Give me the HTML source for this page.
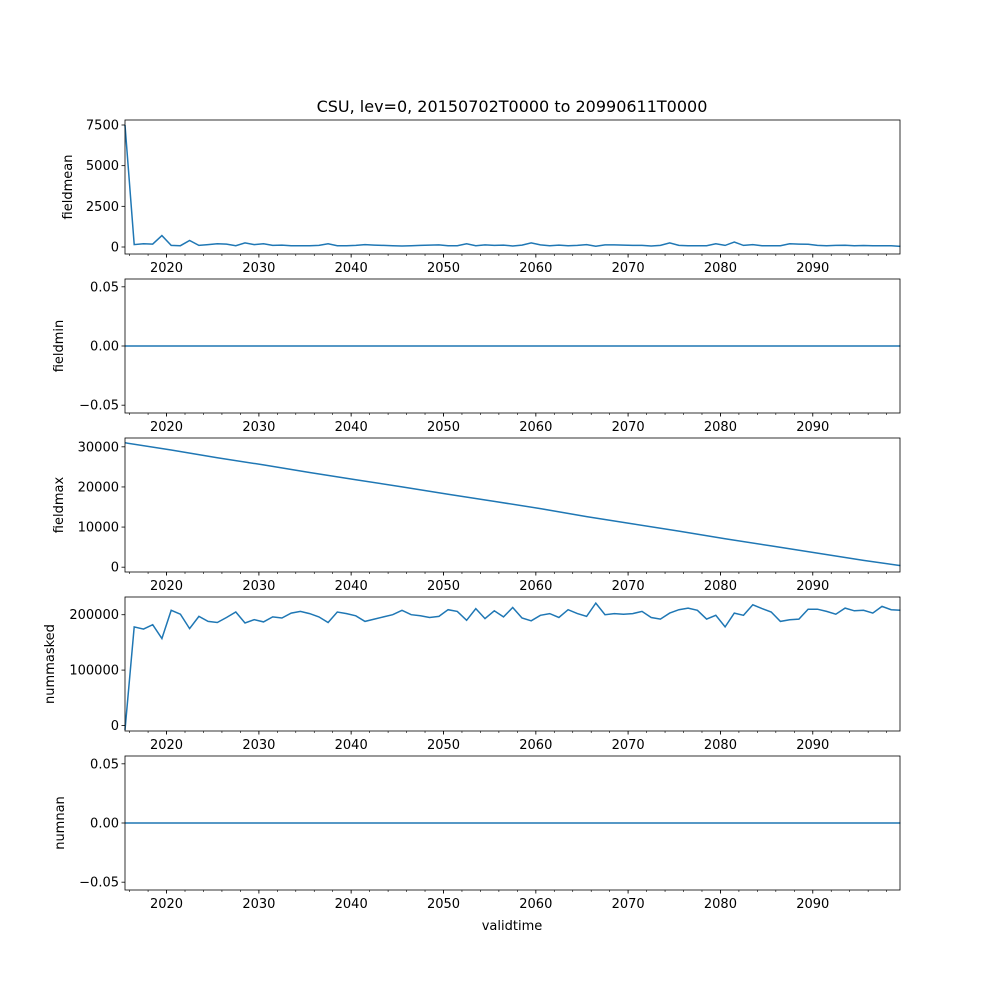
<!DOCTYPE html>
<html><head><meta charset="utf-8"><style>
body{margin:0;background:#fff;font-family:"Liberation Sans","DejaVu Sans",sans-serif}
text{font-family:"DejaVu Sans","Liberation Sans",sans-serif}
</style></head><body>
<svg id="c" width="1000" height="1000"></svg>
<script>
const xTicks=[2020,2030,2040,2050,2060,2070,2080,2090];
const meanVals=[7500,150,200,180,700,100,80,400,100,150,200,180,80,250,150,200,100,120,80,80,80,100,200,80,80,100,150,120,100,80,60,80,100,120,130,80,80,200,80,130,100,120,60,120,250,130,80,120,80,100,150,50,130,130,120,100,100,60,100,250,100,80,80,80,200,100,300,100,150,80,80,80,200,180,170,100,80,100,110,80,90,80,80,80,40];
const maxYears=[2015.5,2020.5,2025.5,2030.5,2035.5,2040.5,2045.5,2050.5,2055.5,2060.5,2065.5,2070.5,2075.5,2080.5,2085.5,2090.5,2095.5,2099.5];
const maxVals=[31000,29200,27300,25500,23600,21800,20000,18200,16400,14600,12600,10800,9000,7100,5300,3500,1700,400];
const maskedVals=[-8000,178000,174000,182000,157000,208000,201000,175000,197000,188000,186000,195000,205000,185000,191000,187000,196000,194000,203000,206000,202000,196000,186000,205000,202000,198000,188000,192000,196000,200000,208000,200000,198000,195000,197000,209000,206000,190000,211000,193000,207000,196000,213000,194000,189000,199000,202000,195000,209000,202000,197000,221000,200000,202000,201000,202000,206000,195000,192000,203000,209000,212000,208000,192000,199000,178000,203000,199000,218000,211000,205000,188000,191000,192000,210000,210000,206000,201000,212000,207000,208000,203000,215000,209000,208000];
const minVals=[0,0];
const nanVals=[0,0];
const zeroYears=[2015.5,2099.5];
const meanTicks=[0,2500,5000,7500];
const zeroTicks=[-0.05,0,0.05];
const maxTicks=[0,10000,20000,30000];
const maskTicks=[0,100000,200000];

const svg=document.getElementById('c');
const NS='http://www.w3.org/2000/svg';
const L=125,R=900,X0=2015.5,X1=2099.45;
const sx=v=>L+(v-X0)/(X1-X0)*(R-L);
function mk(tag,attrs,parent){const e=document.createElementNS(NS,tag);for(const k in attrs)e.setAttribute(k,attrs[k]);(parent||svg).appendChild(e);return e;}
function txt(s,attrs,parent){const e=mk('text',attrs,parent);e.textContent=s;return e;}

const t=txt('CSU, lev=0, 20150702T0000 to 20990611T0000',{x:512,y:112,'text-anchor':'middle','font-size':'16'});



function panel(name,top,ymin,ymax,ticks,fmt,years,vals){
  const H=134,g=mk('g',{});
  
  
  const sy=v=>top+H-(v-ymin)/(ymax-ymin)*H;
  const pts=vals.map((v,i)=>sx(years?years[i]:X0+i).toFixed(1)+','+sy(v).toFixed(1)).join(' ');
  const line=mk('polyline',{points:pts,fill:'none',stroke:'#1f77b4','stroke-width':1.5},g);
  
  
  const fr=mk('rect',{x:L,y:top,width:R-L,height:H,fill:'none',stroke:'#000','stroke-width':0.8},g);
  
  
  ticks.forEach(v=>{const y=sy(v);mk('line',{x1:L-3.5,x2:L,y1:y,y2:y,stroke:'#000','stroke-width':0.8},g);
    const l=txt(fmt(v),{x:L-6,y:y+4.5,'text-anchor':'end','font-size':'13'},g);
    
    });
  for(let yr=2016;yr<=2098;yr+=2){const x=sx(yr);mk('line',{x1:x,x2:x,y1:top+H,y2:top+H+(yr%10==0?3.5:2),stroke:'#000','stroke-width':0.6},g);}
  xTicks.forEach(v=>{const x=sx(v);mk('line',{x1:x,x2:x,y1:top+H,y2:top+H+3.5,stroke:'#000','stroke-width':0.8},g);
    const l=txt(String(v),{x:x,y:top+H+18,'text-anchor':'middle','font-size':'13'},g);
    
    });
  const lab=txt(name,{x:0,y:0,'text-anchor':'middle','font-size':'13',transform:`translate(${name=='nummasked'?54:name=='numnan'?64:name=='fieldmean'?72:63},${top+H/2}) rotate(-90)`},g);
  
  
}
const f0=v=>String(v);
const f2=v=>v.toFixed(2).replace('-','\u2212');
panel('fieldmean',120,-430,7807,meanTicks,f0,null,meanVals);
panel('fieldmin',279,-0.0566,0.0566,zeroTicks,f2,zeroYears,minVals);
panel('fieldmax',438,-1200,32200,maxTicks,f0,maxYears,maxVals);
panel('nummasked',597,-10000,232000,maskTicks,f0,null,maskedVals);
panel('numnan',756,-0.0566,0.0566,zeroTicks,f2,zeroYears,nanVals);
const xl=txt('validtime',{x:512,y:930,'text-anchor':'middle','font-size':'13'});


</script>
</body></html>
